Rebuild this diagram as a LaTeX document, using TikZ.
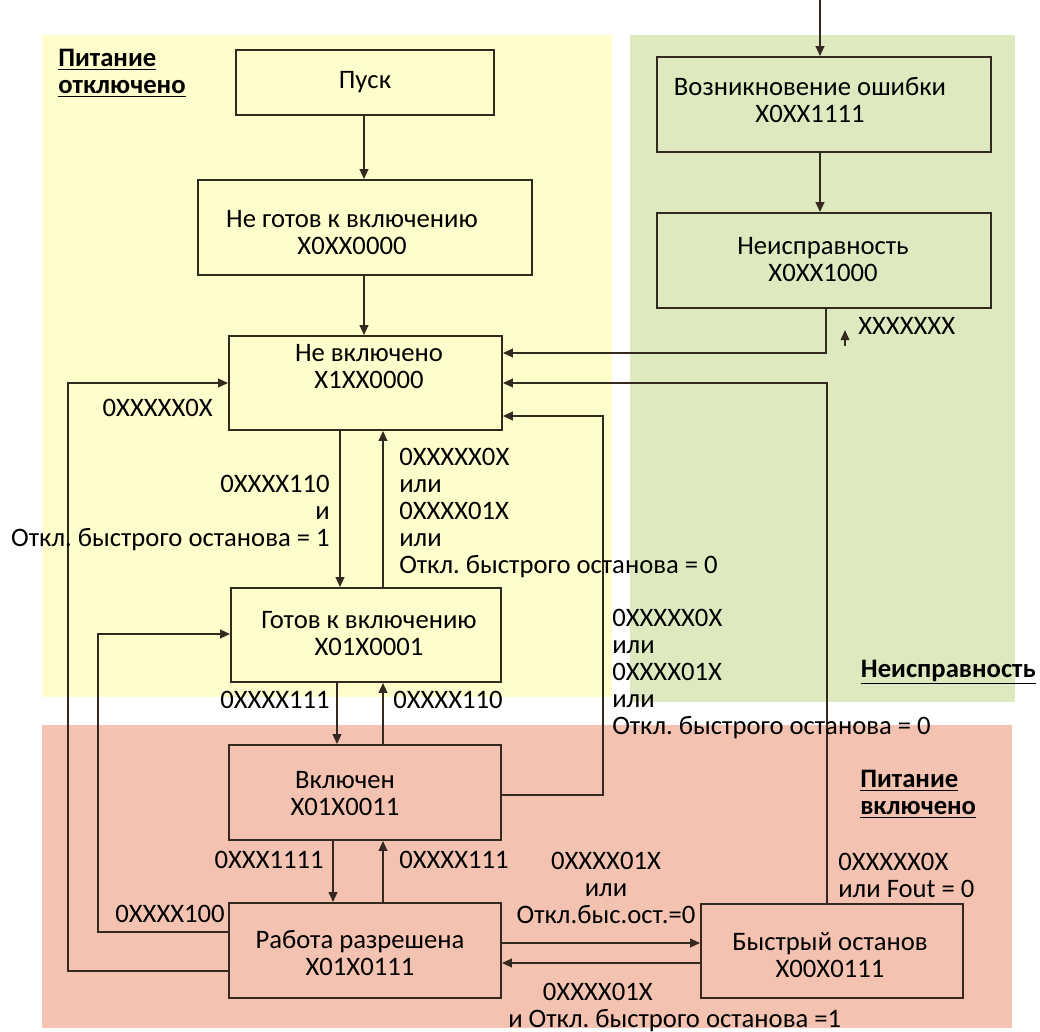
\documentclass[tikz,border=0pt]{standalone}
\usepackage{fontspec}
\setmainfont{Carlito}
\frenchspacing
\usetikzlibrary{arrows.meta,fit}
\definecolor{ylw}{HTML}{FEFDCB}
\definecolor{grn}{HTML}{DEE9BF}
\definecolor{sal}{HTML}{F3C2B0}
\definecolor{ink}{HTML}{33291F}
\begin{document}
\begin{tikzpicture}[x=0.75pt,y=-0.75pt,
  box/.style={draw=ink, line width=1.4pt, inner sep=0pt},
  txt/.style={font=\fontsize{20}{20.25}\selectfont, align=center, inner sep=0pt, text=black},
  ttl/.style={font=\fontsize{20}{20.25}\selectfont\bfseries, align=left, inner sep=0pt, text=black},
  arrw/.style={draw=ink, line width=1.4pt, -{Triangle[length=7.5pt,width=6.5pt]}}]
\useasboundingbox (0,0) rectangle (1040,1032);
% background zones
\fill[ylw] (42,35) rectangle (612,697);
\fill[grn] (630,35) rectangle (1015,702);
\fill[sal] (42,725) rectangle (1012,1028);
% boxes
\node[box, fit={(236,50) (494,115)}] (pusk) {};
\node[box, fit={(198,180) (532,275)}] (ng) {};
\node[box, fit={(229,336) (502,430)}] (nv) {};
\node[box, fit={(231,588) (501,682)}] (gt) {};
\node[box, fit={(229,745) (501,840)}] (vk) {};
\node[box, fit={(229,903) (501,998)}] (rab) {};
\node[box, fit={(701,904) (963,998)}] (bo) {};
\node[box, fit={(657,57) (991,152)}] (voz) {};
\node[box, fit={(657,213) (991,308)}] (neis) {};
% box texts
\node[txt] (puskt) at (365,82) {Пуск};
\node[txt] (ngt) at (352,233) {Не готов к включению\\X0XX0000};
\node[txt] (nvt) at (369,367) {Не включено\\X1XX0000};
\node[txt] (gtt) at (369,634) {Готов к включению\\X01X0001};
\node[txt] (vkt) at (345,794) {Включен\\X01X0011};
\node[txt] (rabt) at (360,953) {Работа разрешена\\X01X0111};
\node[txt] (bot) at (830,955) {Быстрый останов\\X00X0111};
\node[txt] (vozt) at (810,100) {Возникновение ошибки\\X0XX1111};
\node[txt] (neist) at (823,260) {Неисправность\\X0XX1000};
% zone titles
\node[ttl, anchor=west] (z1) at (58,73) {\underline{Питание}\\\underline{отключено}};
\node[ttl, anchor=east] (z2) at (1036,672) {\underline{Неисправность}};
\node[ttl, anchor=west] (z3) at (860,794) {\underline{Питание}\\\underline{включено}};
% coordinates
\coordinate (top) at (820,0);
\coordinate (c1) at (826,353);
\coordinate (c2) at (827,383);
\coordinate (c3) at (603,795);
\coordinate (c3b) at (603,416);
\coordinate (c4) at (98,932);
\coordinate (c4b) at (98,634);
\coordinate (c5) at (68,971);
\coordinate (c5b) at (68,383);
\coordinate (xa) at (340,0);
\coordinate (xb) at (383,0);
\coordinate (xc) at (337,0);
\coordinate (xd) at (333,0);
\coordinate (xp) at (364,0);
\coordinate (ya) at (0,943);
\coordinate (yb) at (0,963);
\coordinate (s1) at (845,346);
\coordinate (s2) at (845,330);
% connectors
\draw[arrw] (pusk.south -| xp) -- (ng.north -| xp);
\draw[arrw] (ng.south -| xp) -- (nv.north -| xp);
\draw[arrw] (top) -- (top |- voz.north);
\draw[arrw] (voz.south -| top) -- (neis.north -| top);
\draw[arrw] (neis.south -| c1) |- (nv.east |- c1);
\draw[arrw, line width=1pt] (s1) -- (s2);
\draw[arrw] (bo.north -| c2) |- (nv.east |- c2);
\draw[arrw] (vk.east |- c3) -- (c3) -- (c3b) -- (nv.east |- c3b);
\draw[arrw] (nv.south -| xa) -- (gt.north -| xa);
\draw[arrw] (gt.north -| xb) -- (nv.south -| xb);
\draw[arrw] (gt.south -| xc) -- (vk.north -| xc);
\draw[arrw] (vk.north -| xb) -- (gt.south -| xb);
\draw[arrw] (vk.south -| xd) -- (rab.north -| xd);
\draw[arrw] (rab.north -| xb) -- (vk.south -| xb);
\draw[arrw] (rab.west |- c4) -- (c4) -- (c4b) -- (gt.west |- c4b);
\draw[arrw] (rab.west |- c5) -- (c5) -- (c5b) -- (nv.west |- c5b);
\draw[arrw] (rab.east |- ya) -- (bo.west |- ya);
\draw[arrw] (bo.west |- yb) -- (rab.east |- yb);
% labels
\node[txt, anchor=west] (l1) at (858,326) {XXXXXXX};
\node[txt, anchor=east] (l2) at (213,408) {0XXXXX0X};
\node[txt, anchor=east, align=right] (l3) at (330,513) {0XXXX110\\и\\Откл. быстрого останова = 1};
\node[txt, anchor=west, align=left] (l4) at (399,513) {0XXXXX0X\\или\\0XXXX01X\\или\\Откл. быстрого останова = 0};
\node[txt, anchor=west, align=left] (l5) at (612,674) {0XXXXX0X\\или\\0XXXX01X\\или\\Откл. быстрого останова = 0};
\node[txt, anchor=east] (l6) at (330,700) {0XXXX111};
\node[txt, anchor=west] (l7) at (393,700) {0XXXX110};
\node[txt, anchor=east] (l8) at (324,860) {0XXX1111};
\node[txt, anchor=west] (l9) at (399,860) {0XXXX111};
\node[txt, anchor=east] (l10) at (225,914) {0XXXX100};
\node[txt] (l11) at (606,888) {0XXXX01X\\или\\Откл.быс.ост.=0};
\node[txt, anchor=west, align=left] (l12) at (838,875) {0XXXXX0X\\или Fout = 0};
\node[txt, anchor=west, align=left] (l13) at (508,1007) {\hspace*{26pt}0XXXX01X\\и Откл. быстрого останова =1};
\end{tikzpicture}
\end{document}
